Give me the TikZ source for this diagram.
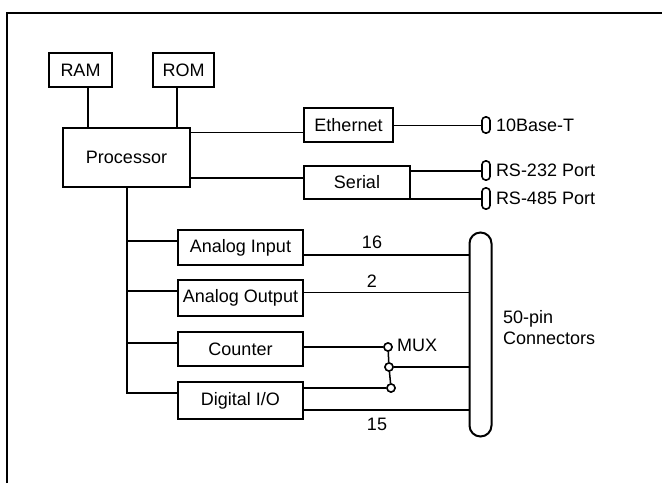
\documentclass[tikz,border=0pt]{standalone}
\usepackage{fontspec}
\setmainfont{Liberation Sans}
\begin{document}
\begin{tikzpicture}[x=1pt,y=-1pt,
  box/.style={draw, line width=2pt, inner sep=0pt, font=\fontsize{18}{21}\selectfont},
  plug/.style={draw, line width=1.6pt, rounded corners=3.5pt, minimum width=8pt, inner sep=0pt},
  lbl/.style={inner sep=0pt, font=\fontsize{18}{21}\selectfont},
  thk/.style={line width=2pt},
  thn/.style={line width=1pt},
  mux/.style={circle, draw, line width=1.5pt, fill=white, minimum size=8pt, inner sep=0pt}]
\useasboundingbox (0,0) rectangle (662,483);
% frame
\coordinate (fb) at (7,483);
\coordinate (fc) at (7,13);
\coordinate (fr) at (662,13);
\draw[line width=2pt] (fb) -- (fc) -- (fr);
% boxes
\node[box, minimum width=63pt, minimum height=34pt] (ram) at (80.5,70) {RAM};
\node[box, minimum width=61pt, minimum height=34pt] (rom) at (183.5,70) {ROM};
\node[box, minimum width=127pt, minimum height=59pt] (proc) at (126.5,157.5) {Processor};
\node[box, minimum width=89pt, minimum height=34pt] (eth) at (348.5,125) {Ethernet};
\node[box, minimum width=106pt, minimum height=33pt] (ser) at (357,182.5) {Serial};
\node[box, minimum width=125pt, minimum height=35pt] (ai) at (240.5,247.5) {Analog Input};
\node[box, minimum width=125pt, minimum height=36pt] (ao) at (240.5,298) {Analog Output};
\node[box, minimum width=125pt, minimum height=34pt] (cnt) at (240.5,349) {Counter};
\node[box, minimum width=125pt, minimum height=37pt] (dio) at (240.5,400.5) {Digital I/O};
% plugs
\node[plug, minimum height=16pt] (p10) at (486,125) {};
\node[plug, minimum height=19pt] (p232) at (486,170.5) {};
\node[plug, minimum height=21pt] (p485) at (486,198.5) {};
\node[draw, line width=2pt, rounded corners=11pt, minimum width=22pt, minimum height=204pt, inner sep=0pt] (con) at (480.5,334.5) {};
% plug labels
\node[lbl, anchor=west] (t10) at (p10.east) [xshift=5pt] {10Base-T};
\node[lbl, anchor=west] (t232) at (p232.east) [xshift=5pt] {RS-232 Port};
\node[lbl, anchor=west] (t485) at (p485.east) [xshift=5pt] {RS-485 Port};
\node[lbl, anchor=west, align=left] (tcon) at (503,328) {50-pin\\Connectors};
% memory links
\coordinate (ramx) at (88,0);
\coordinate (romx) at (177,0);
\draw[thk] (ram.south -| ramx) -- (proc.north -| ramx);
\draw[thk] (rom.south -| romx) -- (proc.north -| romx);
% processor to ethernet / serial
\coordinate (ye) at (0,132);
\coordinate (ys) at (0,178);
\draw[thn] (proc.east |- ye) -- (eth.west |- ye);
\draw[thn] (eth.east) -- (p10.west);
\draw[thk] (proc.east |- ys) -- (ser.west |- ys);
\draw[thk] (ser.east |- p232.west) -- (p232.west);
\draw[thk] (ser.east |- p485.west) -- (p485.west);
% bus
\coordinate (bus) at (127,393);
\coordinate (b1) at (127,241);
\coordinate (b2) at (127,291);
\coordinate (b3) at (127,343);
\draw[thk] (proc.south -| bus) -- (bus) -- (dio.west |- bus);
\draw[thk] (b1) -- (ai.west |- b1);
\draw[thk] (b2) -- (ao.west |- b2);
\draw[thk] (b3) -- (cnt.west |- b3);
% mux
\node[mux] (m1) at (388,347) {};
\node[mux] (m2) at (389,367) {};
\node[mux] (m3) at (391,388) {};
\draw[line width=1.5pt] (m1) -- (m2) -- (m3);
\node[lbl, anchor=west] (tmux) at (397,345) {MUX};
% signal lines
\coordinate (y16) at (0,255);
\coordinate (y2) at (0,292);
\coordinate (y15) at (0,410);
\draw[line width=2.4pt] (ai.east |- y16) -- (con.west |- y16);
\draw[thn] (ao.east |- y2) -- (con.west |- y2);
\draw[line width=1.5pt] (cnt.east |- m1) -- (m1);
\draw[line width=1.5pt] (m2) -- (con.west |- m2);
\draw[thk] (dio.east |- m3) -- (m3);
\draw[line width=1.5pt] (dio.east |- y15) -- (con.west |- y15);
\node[lbl] (n16) at (372,242) {16};
\node[lbl] (n2) at (372,281) {2};
\node[lbl] (n15) at (377,424) {15};
% redraw mux circles on top
\node[mux] at (m1) {};
\node[mux] at (m2) {};
\node[mux] at (m3) {};
\end{tikzpicture}
\end{document}
